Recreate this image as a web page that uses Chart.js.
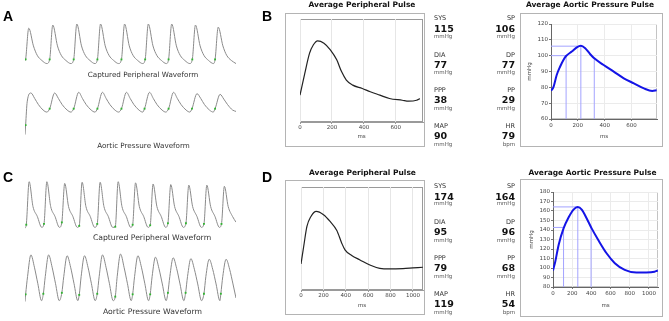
<!DOCTYPE html>
<html>
<head>
<meta charset="utf-8">
<script src="https://cdn.jsdelivr.net/npm/chart.js@4.4.1/dist/chart.umd.min.js"></script>
<style>
  body { margin: 0; background: #fff; }
  #fig { position: relative; width: 669px; height: 321px; overflow: hidden; font-family: "DejaVu Sans", sans-serif; color: #333; }
  #fig canvas { position: absolute; }
  .letter { position: absolute; font: bold 14px "Liberation Sans", Arial, sans-serif; color: #000; line-height: 1; }
  .mid { position: absolute; transform: translate(-50%, -50%); white-space: nowrap; line-height: 1; color: #333; }
  .title { font-weight: bold; font-size: 7.5px; color: #111; }
  .box { position: absolute; border: 1px solid #b4b4b4; background: #fff; }
  .stat { position: absolute; white-space: nowrap; line-height: 1; transform: translateY(-50%); }
  .stat.r { transform: translate(-100%, -50%); }
  .letter, .mid, .stat { filter: grayscale(100%); }
  .lab { font-size: 6.5px; color: #333; }
  .val { font-size: 9.5px; font-weight: bold; color: #111; }
  .unit { font-size: 5.5px; color: #555; }
</style>
</head>
<body>
<div id="fig">
  <div class="letter" style="left:3px;top:9px">A</div>
  <div class="letter" style="left:262px;top:9px">B</div>
  <div class="letter" style="left:3px;top:170px">C</div>
  <div class="letter" style="left:262px;top:170px">D</div>

  <canvas id="stripA1" width="219" height="54" style="left:21px;top:17px"></canvas>
  <canvas id="stripA2" width="219" height="57" style="left:21px;top:84px"></canvas>
  <canvas id="stripC1" width="219" height="64" style="left:21px;top:172px"></canvas>
  <canvas id="stripC2" width="219" height="65" style="left:21px;top:245px"></canvas>

  <div class="mid" style="left:143px;top:75px;font-size:7.2px">Captured Peripheral Waveform</div>
  <div class="mid" style="left:143.5px;top:145.5px;font-size:7.2px">Aortic Pressure Waveform</div>
  <div class="mid" style="left:152px;top:237.5px;font-size:7.7px">Captured Peripheral Waveform</div>
  <div class="mid" style="left:152.5px;top:312px;font-size:7.7px">Aortic Pressure Waveform</div>

  <div class="mid title" style="left:362px;top:4.5px">Average Peripheral Pulse</div>
  <div class="mid title" style="left:590px;top:4.5px">Average Aortic Pressure Pulse</div>
  <div class="mid title" style="left:362.5px;top:173px">Average Peripheral Pulse</div>
  <div class="mid title" style="left:592.5px;top:172.5px">Average Aortic Pressure Pulse</div>

  <div class="box" style="left:285px;top:13px;width:138px;height:132px"></div>
  <div class="box" style="left:520px;top:13px;width:141px;height:132px"></div>
  <div class="box" style="left:285px;top:180px;width:138px;height:133px"></div>
  <div class="box" style="left:520px;top:179px;width:141px;height:136px"></div>

  <canvas id="periphTop" width="138" height="132" style="left:286px;top:14px"></canvas>
  <canvas id="aorticTop" width="141" height="132" style="left:521px;top:14px"></canvas>
  <canvas id="periphBottom" width="138" height="133" style="left:286px;top:181px"></canvas>
  <canvas id="aorticBottom" width="141" height="136" style="left:521px;top:180px"></canvas>
</div>
<script>
// ---- strip recordings (time in s, pressure in mmHg) ----
const stripA_periph = [[0,79.5],
  [0.02,81],[0.12,111],[0.27,94],[0.39,85],[0.54,80],[0.70,77],
  [0.79,81],[0.89,114],[1.04,94],[1.16,85],[1.31,80],[1.47,77],
  [1.56,81],[1.66,115],[1.81,94],[1.93,85],[2.08,80],[2.24,77],
  [2.32,81],[2.42,115],[2.57,94],[2.69,85],[2.84,80],[3.00,77],
  [3.09,81],[3.19,115],[3.34,94],[3.46,85],[3.61,80],[3.77,77],
  [3.85,81],[3.95,115],[4.10,94],[4.22,85],[4.37,80],[4.53,77],
  [4.60,81],[4.70,115],[4.85,94],[4.97,85],[5.12,80],[5.28,77],
  [5.36,81],[5.46,114],[5.61,94],[5.73,85],[5.88,80],[6.04,77],
  [6.09,81],[6.19,112],[6.34,94],[6.46,85],[6.61,80],[6.76,77]];
const feetA_periph = [[0.02,81],[0.79,81],[1.56,81],[2.32,81],[3.09,81],[3.85,81],[4.60,81],[5.36,81],[6.09,81]];

const stripA_aortic = [[0,44],[0.02,58],[0.07,92],[0.19,105],[0.31,97],[0.43,88],[0.58,80],[0.70,77],
  [0.79,82],[0.95,105],[1.07,97],[1.19,88],[1.35,80],[1.47,77],
  [1.56,82],[1.72,106],[1.84,97],[1.96,88],[2.12,80],[2.24,77],
  [2.32,82],[2.48,106],[2.60,97],[2.72,88],[2.88,80],[3.00,77],
  [3.09,82],[3.25,106],[3.37,97],[3.49,88],[3.65,80],[3.77,77],
  [3.83,82],[3.99,106],[4.11,97],[4.23,88],[4.39,80],[4.51,77],
  [4.60,82],[4.76,106],[4.88,97],[5.00,88],[5.16,80],[5.28,77],
  [5.35,82],[5.51,104],[5.63,97],[5.75,88],[5.91,80],[6.03,77],
  [6.09,82],[6.25,103],[6.37,96],[6.49,88],[6.65,80],[6.76,78]];
const feetA_aortic = [[0.02,58],[0.79,82],[1.56,82],[2.32,82],[3.09,82],[3.83,82],[4.60,82],[5.35,82],[6.09,82]];

const stripC_periph = [[0,93.5],
  [0.08,99.6],[0.26,174],[0.50,131],[0.77,114],[1.05,95],
  [1.19,101],[1.37,174],[1.61,131],[1.88,114],[2.16,95],
  [2.31,103.6],[2.49,171],[2.73,131],[3.00,114],[3.28,95],
  [3.40,97.6],[3.58,173],[3.82,131],[4.09,114],[4.37,95],
  [4.53,101],[4.71,173],[4.95,131],[5.22,114],[5.50,95],
  [5.66,96.1],[5.84,174],[6.08,131],[6.35,114],[6.63,95],
  [6.75,99.6],[6.93,172],[7.17,131],[7.44,114],[7.72,95],
  [7.85,98.7],[8.03,170],[8.27,131],[8.54,114],[8.82,95],
  [8.96,102.1],[9.14,169],[9.38,131],[9.65,114],[9.93,95],
  [10.09,102.1],[10.27,168],[10.51,131],[10.78,114],[11.06,95],
  [11.22,101],[11.40,168],[11.64,131],[11.91,114],[12.19,95],
  [12.32,101],[12.50,166],[12.74,131],[13.01,114],[13.23,104]];
const feetC_periph = [[0.08,99.6],[1.19,101],[2.31,103.6],[3.40,97.6],[4.53,101],[5.66,96.1],[6.75,99.6],[7.85,98.7],[8.96,102.1],[10.09,102.1],[11.22,101],[12.32,101]];

const stripC_aortic = [[0,94.7],
  [0.04,105.5],[0.16,132],[0.37,164.4],[0.59,146],[0.80,122],[1.04,96],
  [1.15,106.4],[1.27,132],[1.48,164.4],[1.70,146],[1.91,122],[2.15,96],
  [2.31,107.8],[2.43,132],[2.64,163.1],[2.86,146],[3.07,122],[3.31,96],
  [3.40,104.7],[3.52,132],[3.73,163.1],[3.95,146],[4.16,122],[4.40,96],
  [4.53,106.4],[4.65,132],[4.86,164.4],[5.08,146],[5.29,122],[5.53,96],
  [5.66,102.1],[5.78,132],[5.99,165.7],[6.21,146],[6.42,122],[6.66,96],
  [6.75,105.5],[6.87,132],[7.08,163.1],[7.30,146],[7.51,122],[7.75,96],
  [7.85,105.5],[7.97,132],[8.18,161],[8.40,144],[8.61,121],[8.85,96],
  [8.96,107.8],[9.08,132],[9.29,160.1],[9.51,144],[9.72,121],[9.96,96],
  [10.07,107.8],[10.19,132],[10.40,158.8],[10.62,143],[10.83,121],[11.07,96],
  [11.22,106.4],[11.34,132],[11.55,157.9],[11.77,143],[11.98,121],[12.22,96],
  [12.28,106.4],[12.40,132],[12.61,157.9],[12.83,143],[13.04,121],[13.23,100]];
const feetC_aortic = [[0.04,105.5],[1.15,106.4],[2.31,107.8],[3.40,104.7],[4.53,106.4],[5.66,102.1],[6.75,105.5],[7.85,105.5],[8.96,107.8],[10.07,107.8],[11.22,106.4],[12.28,106.4]];

// ---- averaged pulses (ms, mmHg) ----
const periphTopTime = [0,30,60,84,110,150,190,230,260,290,330,390,440,500,560,640,680,730,750];
const periphTopPressure = [80.8,94.5,107.2,112.5,115,113.5,109.3,103,95.6,90.3,87.1,85,82.9,80.8,78.7,77.6,77,77.6,78.6];
const periphBottomTime = [0,24,53,89,136,201,260,320,364,393,453,527,615,704,793,911,1000,1089];
const periphBottomPressure = [101.9,125.8,153.3,167.1,174,169.4,160.2,147.8,130.4,121.2,113.4,107.4,100.5,95.9,95,95.5,96.4,97.3];

const aorticTopTime = [0,17.5,42.5,67.5,92.5,112.5,155,192.5,222.5,255,292.5,322.5,392.5,467.5,542.5,617.5,692.5,755,787.5];
const aorticTopPressure = [77.9,80,87.8,93,97.3,99.8,102.6,105.2,106.2,104.7,100.9,98.3,94.1,89.9,85.7,82.5,79.3,77.7,78.1];
const aorticBottomTime = [0,24,58.6,110,162,214,258.6,300,351.7,403,472,558.6,644.8,748,869,972,1058.6,1093];
const aorticBottomPressure = [97.4,106.8,124.3,141.7,153.2,161.5,164.3,161.5,152.1,141.7,129.5,115.5,105.1,98.1,95.3,95.3,96,97.4];

// [ms, mmHg] markers: inflection, systolic peak, notch
const aorticTopMarks = [[112.5,100],[222.5,106],[322.5,98.4]];
const aorticBottomMarks = [[110,142.7],[258.6,164.3],[397,143]];

// ---- tick labels ----
const msTicksTop = [0, 200, 400, 600];
const msTicksBottom = [0, 200, 400, 600, 800, 1000];
const mmHgTicksTop = [60, 70, 80, 90, 100, 110, 120];
const mmHgTicksBottom = [80, 90, 100, 110, 120, 130, 140, 150, 160, 170, 180];

// ---- readouts ----
const periphLabels = ["SYS", "DIA", "PPP", "MAP"];
const periphTopValues = [115, 77, 38, 90];
const periphBottomValues = [174, 95, 79, 119];
const aorticLabels = ["SP", "DP", "PP", "HR"];
const aorticUnits = ["mmHg", "mmHg", "mmHg", "bpm"];
const aorticTopValues = [106, 77, 29, 79];
const aorticBottomValues = [164, 96, 68, 54];

Chart.defaults.font.family = "'DejaVu Sans', sans-serif";
Chart.defaults.animation = false;
Chart.defaults.devicePixelRatio = 1;

const fig = document.getElementById("fig");
function addText(cls, text, x, y) {
  const d = document.createElement("div");
  d.className = cls;
  d.textContent = text;
  d.style.left = x + "px";
  d.style.top = y + "px";
  fig.appendChild(d);
}
function addStats(labels, values, units, x, right, labY, valY, unitY) {
  const c = right ? "stat r " : "stat ";
  labels.forEach((lab, i) => {
    addText(c + "lab", lab, x, labY[i]);
    addText(c + "val", String(values[i]), x, valY[i]);
    addText(c + "unit", units[i], x, unitY[i]);
  });
}
const mm = ["mmHg", "mmHg", "mmHg", "mmHg"];
addStats(periphLabels, periphTopValues, mm, 434, false, [18, 54.5, 90, 126], [28.7, 64.7, 100.3, 136], [36.7, 72.8, 108.6, 144.8]);
addStats(aorticLabels, aorticTopValues, aorticUnits, 515, true, [18, 54.5, 90, 126], [28.7, 64.7, 100.3, 136], [36.7, 72.8, 108.6, 144.8]);
addStats(periphLabels, periphBottomValues, mm, 434, false, [185.7, 222, 258, 293.5], [196.7, 232, 268, 303.5], [204.3, 240.6, 276.7, 312.5]);
addStats(aorticLabels, aorticBottomValues, aorticUnits, 515, true, [185.7, 222, 258, 293.5], [196.7, 232, 268, 303.5], [204.3, 240.6, 276.7, 312.5]);

const toXY = arr => arr.map(([x, y]) => ({ x, y }));
const zip = (xs, ys) => xs.map((x, i) => ({ x, y: ys[i] }));
const fixedTicks = values => scale => { scale.ticks = values.map(v => ({ value: v })); };

// border round the plot area
const framePlugin = {
  id: "frame",
  beforeDraw(chart, args, opts) {
    if (!opts.color) return;
    const { ctx, chartArea: a } = chart;
    ctx.save();
    ctx.strokeStyle = opts.color;
    ctx.lineWidth = 1;
    ctx.strokeRect(Math.round(a.left) + 0.5, Math.round(a.top) + 0.5, Math.round(a.right - a.left) - 1, Math.round(a.bottom - a.top) - 1);
    ctx.restore();
  }
};

function strip(id, line, feet, xMax, yMin, yMax) {
  new Chart(document.getElementById(id), {
    type: "line",
    data: {
      datasets: [
        { data: toXY(feet), showLine: false, pointStyle: "rect", pointRadius: 1.3, backgroundColor: "#2fb52f", borderWidth: 0 },
        { data: toXY(line), borderColor: "#8a8a8a", borderWidth: 1, pointRadius: 0, cubicInterpolationMode: "monotone" }
      ]
    },
    options: {
      responsive: false, events: [],
      layout: { padding: 0 },
      plugins: { legend: { display: false }, tooltip: { enabled: false } },
      scales: {
        x: { type: "linear", display: false, min: 0, max: xMax },
        y: { display: false, min: yMin, max: yMax }
      }
    }
  });
}
strip("stripA1", stripA_periph, feetA_periph, 6.76, 73.7, 117.9);
strip("stripA2", stripA_aortic, feetA_aortic, 6.76, 40.5, 112.3);
strip("stripC1", stripC_periph, feetC_periph, 13.23, 87, 183.8);
strip("stripC2", stripC_aortic, feetC_aortic, 13.23, 88.1, 173.2);

function periph(id, time, pressure, ticks, xMax, yMin, yMax, pad, msPad) {
  new Chart(document.getElementById(id), {
    type: "line",
    data: { datasets: [{ data: zip(time, pressure), borderColor: "#222", borderWidth: 1.2, pointRadius: 0, cubicInterpolationMode: "monotone" }] },
    options: {
      responsive: false, events: [],
      layout: { padding: { left: pad.left, top: pad.top, right: pad.right, bottom: 0 } },
      plugins: { legend: { display: false }, tooltip: { enabled: false }, frame: { color: "#9a9a9a" } },
      scales: {
        x: {
          type: "linear", min: 0, max: xMax,
          afterBuildTicks: fixedTicks(ticks),
          border: { color: "#9a9a9a" },
          grid: { color: "#e6e6e6", tickColor: "#999", tickLength: 2 },
          ticks: { maxRotation: 0, padding: 0, color: "#444", font: { size: 5.5 }, callback: v => String(v) },
          title: { display: true, text: "ms", color: "#444", font: { size: 5.5 }, padding: { top: 0, bottom: msPad } },
          afterFit: s => { s.height = pad.axis; }
        },
        y: { display: false, min: yMin, max: yMax }
      }
    },
    plugins: [framePlugin]
  });
}
periph("periphTop", periphTopTime, periphTopPressure, msTicksTop, 770, 63.9, 128.7, { left: 14, top: 5, right: 1, axis: 24 }, 6.5);
periph("periphBottom", periphBottomTime, periphBottomPressure, msTicksBottom, 1090, 66.1, 207.5, { left: 15, top: 6, right: 1, axis: 24 }, 5);

function aortic(id, time, pressure, marks, xTicks, yTicks, xMax, cfg) {
  const yMin = yTicks[0], yMax = yTicks[yTicks.length - 1];
  const guide = { borderColor: "#a3a3ff", borderWidth: 1, pointRadius: 0, tension: 0 };
  const sets = [{ data: zip(time, pressure), borderColor: "#1414e6", borderWidth: 2, pointRadius: 0, cubicInterpolationMode: "monotone" }];
  marks.forEach(([t, p], i) => {
    sets.push(Object.assign({ data: [{ x: t, y: yMin }, { x: t, y: p }] }, guide));
    if (i < 2) sets.push(Object.assign({ data: [{ x: 0, y: p }, { x: t, y: p }] }, guide));
  });
  new Chart(document.getElementById(id), {
    type: "line",
    data: { datasets: sets },
    options: {
      responsive: false, events: [],
      layout: { padding: { left: 0, top: cfg.top, right: cfg.right, bottom: 0 } },
      plugins: { legend: { display: false }, tooltip: { enabled: false }, frame: { color: "#c4c4c4" } },
      scales: {
        x: {
          type: "linear", min: 0, max: xMax,
          afterBuildTicks: fixedTicks(xTicks),
          border: { color: "#666" },
          grid: { color: "#ebebeb", tickColor: "#777", tickLength: 2 },
          ticks: { maxRotation: 0, padding: 1, color: "#444", font: { size: 5.5 }, callback: v => String(v) },
          title: { display: true, text: "ms", color: "#444", font: { size: 5.5 }, padding: { top: 0, bottom: cfg.msPad } },
          afterFit: s => { s.height = cfg.xHeight; }
        },
        y: {
          min: yMin, max: yMax,
          afterBuildTicks: fixedTicks(yTicks),
          border: { color: "#666" },
          grid: { color: "#ebebeb", tickColor: "#777", tickLength: 2 },
          ticks: { autoSkip: false, padding: 1, color: "#444", font: { size: 5.5 }, callback: v => String(v) },
          title: { display: true, text: "mmHg", color: "#444", font: { size: 5.5 }, padding: { top: cfg.mmPad, bottom: 0 } },
          afterFit: s => { s.width = cfg.yWidth; }
        }
      }
    },
    plugins: [framePlugin]
  });
}
aortic("aorticTop", aorticTopTime, aorticTopPressure, aorticTopMarks, msTicksTop, mmHgTicksTop, 790, { top: 10, right: 5, xHeight: 27, yWidth: 30, msPad: 6, mmPad: 5.7 });
aortic("aorticBottom", aorticBottomTime, aorticBottomPressure, aorticBottomMarks, msTicksBottom, mmHgTicksBottom, 1095, { top: 12, right: 4, xHeight: 29, yWidth: 32, msPad: 7, mmPad: 7.4 });
</script>
</body>
</html>
